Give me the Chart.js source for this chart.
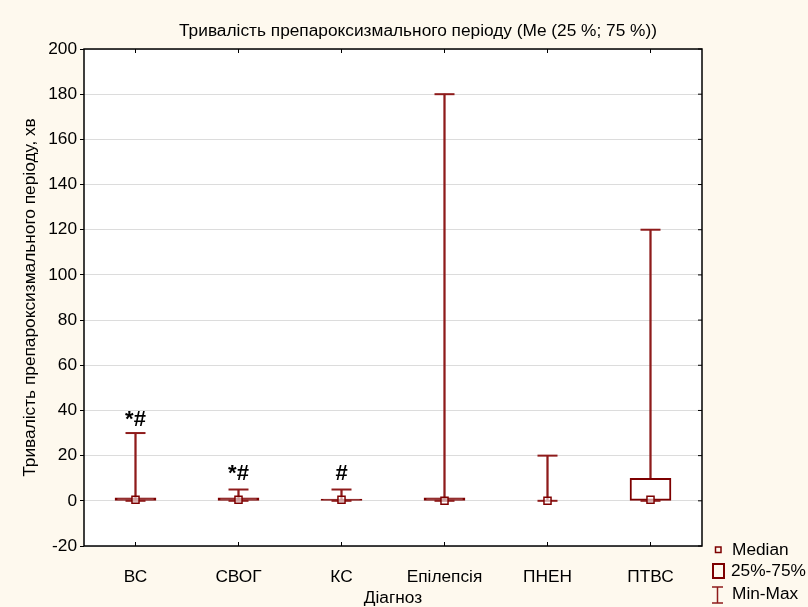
<!DOCTYPE html>
<html>
<head>
<meta charset="utf-8">
<script src="https://cdn.jsdelivr.net/npm/chart.js@4"></script>
<style>
  html,body{margin:0;padding:0;background:#fef9ee;}
  #wrap{width:808px;height:607px;position:relative;}
</style>
</head>
<body>
<div id="wrap"><canvas id="c" width="808" height="607"></canvas></div>
<script>
// Тривалість препароксизмального періоду — box plot (Me, 25%-75%, Min-Max)
const categories = ["ВС","СВОГ","КС","Епілепсія","ПНЕН","ПТВС"];
const mins    = [0, 0, 0, 0, 0, 0];
const q1s     = [0, 0, 0, 0, null, 0];
const medians = [0.5, 0.5, 0.5, 0, 0, 0.5];
const q3s     = [1.3, 1.3, 0.8, 1.3, null, 10];
const maxs    = [30, 5, 5, 180, 20, 120];
const marks   = ["*#", "*#", "#", "", "", ""];
const markAt  = [36, 12, 12, null, null, null];
const yTicks  = {min:-20, max:200, step:20};

const BOX = "#7d0000";
const WHISK = "#8e1b1b";
const FONT = "'Liberation Sans', Arial, sans-serif";
const FS = 17.3;

const boxData = q1s.map((q,i)=> q==null ? null : [q, q3s[i]]);
// very flat boxes render as a solid bar, as in the original
const boxFill = q1s.map((q,i)=> q!=null && q3s[i]-q < 3 ? BOX : "#ffffff");
const whiskData = mins.map((m,i)=>[m, maxs[i]]);

const framePlugin = {
  id:"frame",
  beforeDraw(chart){
    const {ctx, chartArea:a} = chart;
    ctx.save();
    ctx.fillStyle = "#ffffff";
    ctx.fillRect(a.left, a.top, a.right-a.left, a.bottom-a.top);
    ctx.restore();
  },
  afterDraw(chart){
    const {ctx, chartArea:a, scales} = chart;
    ctx.save();
    ctx.strokeStyle = "#000"; ctx.lineWidth = 1.5;
    ctx.strokeRect(a.left, a.top, a.right-a.left, a.bottom-a.top);
    ctx.lineWidth = 1;
    // right-side inward ticks
    scales.y.ticks.forEach(t=>{
      const y = scales.y.getPixelForValue(t.value);
      ctx.beginPath(); ctx.moveTo(a.right-4, y); ctx.lineTo(a.right, y); ctx.stroke();
    });
    // top / bottom inward ticks at categories
    categories.forEach((c,i)=>{
      const x = scales.x.getPixelForValue(i);
      ctx.beginPath(); ctx.moveTo(x, a.top); ctx.lineTo(x, a.top+4); ctx.stroke();
      ctx.beginPath(); ctx.moveTo(x, a.bottom); ctx.lineTo(x, a.bottom-4); ctx.stroke();
    });
    // significance marks
    ctx.fillStyle = "#000";
    ctx.font = "bold 22px " + FONT;
    ctx.textAlign = "center"; ctx.textBaseline = "middle";
    marks.forEach((m,i)=>{
      if(!m) return;
      ctx.fillText(m, scales.x.getPixelForValue(i), scales.y.getPixelForValue(markAt[i]));
    });
    // title
    ctx.font = FS + "px " + FONT;
    ctx.fillText("Тривалість препароксизмального періоду (Me (25 %; 75 %))", 418, 31);
    // legend
    ctx.textAlign = "left";
    ctx.strokeStyle = BOX; ctx.lineWidth = 1.5;
    ctx.strokeRect(715.5, 547, 5.5, 5.5);
    ctx.fillText("Median", 732, 550);
    ctx.lineWidth = 2;
    ctx.strokeRect(713, 564, 11, 14);
    ctx.fillText("25%-75%", 731, 571);
    ctx.strokeStyle = WHISK; ctx.lineWidth = 1.5;
    ctx.beginPath();
    ctx.moveTo(712, 587); ctx.lineTo(723, 587);
    ctx.moveTo(717.5, 587); ctx.lineTo(717.5, 603);
    ctx.moveTo(712, 603); ctx.lineTo(723, 603);
    ctx.stroke();
    ctx.fillText("Min-Max", 732, 594);
    ctx.restore();
  }
};

new Chart(document.getElementById("c"), {
  type:"bar",
  data:{
    labels:categories,
    datasets:[
      { label:"Min-Max", data:whiskData, backgroundColor:WHISK, barThickness:1.6, grouped:false, order:5 },
      { label:"25%-75%", data:boxData, backgroundColor:boxFill, borderColor:BOX, borderWidth:2, borderSkipped:false, barThickness:41, grouped:false, order:4 },
      { type:"line", label:"max", data:maxs, showLine:false, pointStyle:"line", pointRadius:10, borderColor:WHISK, borderWidth:2, order:3 },
      { type:"line", label:"min", data:mins, showLine:false, pointStyle:"line", pointRadius:10, borderColor:WHISK, borderWidth:2, order:3 },
      { type:"line", label:"Median", data:medians, showLine:false, pointStyle:"rect", pointRadius:5, backgroundColor:"rgba(255,255,255,0.6)", borderColor:BOX, borderWidth:1.5, order:1 }
    ]
  },
  options:{
    responsive:false, animation:false, events:[],
    layout:{ padding:{ left:0, right:106, top:49, bottom:0 } },
    plugins:{ legend:{display:false}, tooltip:{enabled:false} },
    scales:{
      x:{
        grid:{ display:false, drawTicks:false },
        border:{ display:false },
        ticks:{ color:"#000", font:{ family:FONT, size:FS }, padding:21, maxRotation:0 },
        title:{ display:true, text:"Діагноз", color:"#000", font:{ family:FONT, size:FS, lineHeight:1 }, padding:{top:0,bottom:0} },
        afterFit(s){ s.height = 61; }
      },
      y:{
        min:yTicks.min, max:yTicks.max,
        grid:{ color:"#dcdcdc", tickColor:"#000", tickLength:4 },
        border:{ display:false },
        ticks:{ stepSize:yTicks.step, color:"#000", font:{ family:FONT, size:FS }, padding:3 },
        title:{ display:true, text:"Тривалість препароксизмального періоду, хв", color:"#000", font:{ family:FONT, size:FS }, padding:{top:20,bottom:0} },
        afterFit(s){ s.width = 84; }
      }
    }
  },
  plugins:[framePlugin]
});
</script>
</body>
</html>
